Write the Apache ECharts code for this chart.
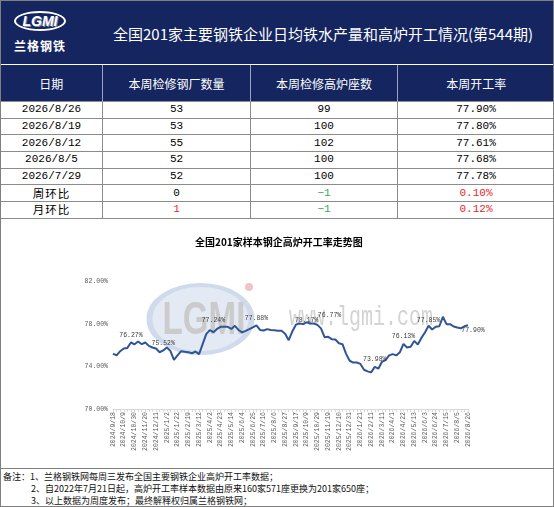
<!DOCTYPE html>
<html>
<head>
<meta charset="utf-8">
<script src="https://cdn.jsdelivr.net/npm/echarts@6/dist/echarts.min.js"></script>
<style>
  body { margin: 0; width: 554px; height: 507px; overflow: hidden; background: #fff; font-family: "Noto Sans CJK SC", sans-serif; }
  .abs { position: absolute; box-sizing: border-box; }
  #head { left: 0; top: 0; width: 554px; height: 64px; background: #14255f; }
  #logo { left: 14px; top: 11px; width: 52px; height: 20px; border: 2px solid #fff; border-radius: 50%; color: #fff;
          font: italic bold 14px "Liberation Sans", sans-serif; text-align: center; line-height: 16px; text-shadow: 1px 1px 0 #7d88a8; }
  #logo2 { left: 12px; top: 37px; width: 56px; color: #fff; font: bold 12px "Noto Sans CJK SC"; letter-spacing: 1px; text-align: center; }
  #title { left: 113px; top: 23px; color: #fff; font-size: 15px; white-space: nowrap; }
  table { position: absolute; left: 0; top: 64px; width: 554px; border-collapse: collapse; table-layout: fixed; }
  th { background: #14255f; color: #fff; font-weight: normal; font-size: 12px; height: 36px; padding: 0;
       border-left: 1px solid #9aa3c0; border-top: 1px solid #fff; }
  td { height: 15.7px; padding: 0; text-align: center; font-family: "Liberation Mono", "Noto Sans CJK SC", monospace; font-size: 11px;
       border: 1px solid #8c8c8c; line-height: 13px; }
  td.cn { font-family: "Noto Sans CJK SC"; font-size: 11.5px; letter-spacing: 1px; }
  .red { color: #e8262b; }
  .green { color: #35a862; }
  #chart { left: 1px; top: 217px; width: 552px; height: 251px; }
  #note { left: 0; top: 468px; width: 554px; height: 39px; border-top: 1px solid #7f7f7f; font-size: 9px; line-height: 12px; padding: 2px 0 0 3px; color: #111; }
  #frame { left: 0; top: 0; width: 554px; height: 507px; border: 1px solid #7f7f7f; pointer-events: none; }
</style>
</head>
<body>
<div id="head" class="abs"></div>
<div id="logo" class="abs">LGMI</div>
<div id="logo2" class="abs">兰格钢铁</div>
<div id="title" class="abs">全国201家主要钢铁企业日均铁水产量和高炉开工情况(第544期)</div>
<table id="tbl">
  <colgroup><col style="width:102px"><col style="width:148px"><col style="width:147px"><col style="width:157px"></colgroup>
  <thead><tr><th style="border-left:none">日期</th><th>本周检修钢厂数量</th><th>本周检修高炉座数</th><th>本周开工率</th></tr></thead>
  <tbody id="tbody"></tbody>
</table>
<div id="chart" class="abs"></div>
<div id="note" class="abs">
  <div>备注：1、兰格钢铁网每周三发布全国主要钢铁企业高炉开工率数据；</div>
  <div style="padding-left:28px">2、自2022年7月21日起，高炉开工率样本数据由原来160家571座更换为201家650座；</div>
  <div style="padding-left:28px">3、以上数据为周度发布；最终解释权归属兰格钢铁网；</div>
</div>
<div id="frame" class="abs"></div>
<script>
// table data
var tblDates = ['2026/8/26', '2026/8/19', '2026/8/12', '2026/8/5', '2026/7/29'];
var tblMills = [53, 53, 55, 52, 52];
var tblFurnaces = [99, 100, 102, 100, 100];
var tblRates = ['77.90%', '77.80%', '77.61%', '77.68%', '77.78%'];
var wowRow = ['0', '-1', '0.10%'];
var momRow = ['1', '-1', '0.12%'];

// chart data (weekly)
var dates = [
  '2024/9/18', '2024/9/25', '2024/9/30', '2024/10/9', '2024/10/16', '2024/10/23', '2024/10/30', '2024/11/6', '2024/11/13', '2024/11/20',
  '2024/11/27', '2024/12/4', '2024/12/11', '2024/12/18', '2024/12/25', '2025/1/2', '2025/1/8', '2025/1/15', '2025/1/22', '2025/2/6',
  '2025/2/12', '2025/2/19', '2025/2/26', '2025/3/5', '2025/3/12', '2025/3/19', '2025/3/26', '2025/4/2', '2025/4/9', '2025/4/16',
  '2025/4/23', '2025/4/30', '2025/5/7', '2025/5/14', '2025/5/21', '2025/5/28', '2025/6/4', '2025/6/11', '2025/6/18', '2025/6/25',
  '2025/7/2', '2025/7/9', '2025/7/16', '2025/7/23', '2025/7/30', '2025/8/6', '2025/8/13', '2025/8/20', '2025/8/27', '2025/9/3',
  '2025/9/10', '2025/9/17', '2025/9/24', '2025/9/30', '2025/10/9', '2025/10/15', '2025/10/22', '2025/10/29', '2025/11/5', '2025/11/12',
  '2025/11/19', '2025/11/26', '2025/12/3', '2025/12/10', '2025/12/17', '2025/12/24', '2025/12/31', '2026/1/7', '2026/1/14', '2026/1/21',
  '2026/1/28', '2026/2/4', '2026/2/11', '2026/2/25', '2026/3/4', '2026/3/11', '2026/3/18', '2026/3/25', '2026/4/1', '2026/4/8',
  '2026/4/15', '2026/4/22', '2026/4/29', '2026/5/6', '2026/5/13', '2026/5/20', '2026/5/27', '2026/6/3', '2026/6/10', '2026/6/17',
  '2026/6/24', '2026/7/1', '2026/7/8', '2026/7/15', '2026/7/22', '2026/7/29', '2026/8/5', '2026/8/12', '2026/8/19', '2026/8/26'
];
var rates = [
  75.23, 75.05, 75.45, 75.70, 75.76, 76.27, 76.10, 76.36, 76.11, 76.27,
  75.95, 75.80, 75.70, 75.35, 75.52, 75.80, 75.48, 74.62, 75.05, 75.45,
  75.40, 75.36, 75.25, 75.42, 75.17, 76.11, 77.06, 77.43, 77.24, 77.55,
  77.75, 77.75, 77.75, 77.55, 77.84, 77.45, 77.22, 77.37, 77.53, 77.70,
  77.88, 77.45, 77.40, 77.53, 77.45, 77.43, 77.38, 77.37, 77.10, 76.49,
  77.30, 77.95, 78.06, 78.00, 78.17, 78.06, 78.06, 77.93, 77.60, 76.77,
  76.80, 76.58, 76.55, 76.20, 76.11, 75.20, 74.55, 74.38, 74.38, 74.25,
  73.70, 73.55, 73.45, 73.98, 73.80, 74.45, 74.60, 75.05, 75.17, 75.05,
  75.35, 76.13, 75.80, 75.86, 76.42, 76.08, 76.70, 77.21, 77.85, 77.50,
  77.75, 77.80, 78.69, 78.00, 78.00, 77.78, 77.68, 77.61, 77.80, 77.90
];
var labelIdx = [5, 14, 28, 40, 54, 59, 73, 81, 88, 99];

// fill the table
var rows = '';
for (var i = 0; i < tblDates.length; i++) {
  rows += '<tr><td>' + tblDates[i] + '</td><td>' + tblMills[i] + '</td><td>' + tblFurnaces[i] + '</td><td>' + tblRates[i] + '</td></tr>';
}
function cls(v) {
  if (v.charAt(0) === '-') return 'green';
  if (v === '0') return '';
  return 'red';
}
function diffRow(name, r) {
  var s = '<tr><td class="cn">' + name + '</td>';
  r.forEach(function (v) { s += '<td class="' + cls(v) + '">' + v.replace('-', '−') + '</td>'; });
  return s + '</tr>';
}
rows += diffRow('周环比', wowRow) + diffRow('月环比', momRow);
document.getElementById('tbody').innerHTML = rows;

// label placement tweaks for the marked points
var labelPos = {
  54: { position: 'inside', offset: [0, -2] },
  59: { position: 'top', offset: [5, -14] },
  28: { position: 'top', offset: [0, -4] },
  88: { position: 'top', offset: [0, 2] },
  99: { position: 'inside', offset: [5, 5] }
};
var seriesData = rates.map(function (v, i) {
  if (labelIdx.indexOf(i) < 0) return v;
  var lp = labelPos[i] || { position: 'top' };
  return {
    value: v,
    label: {
      show: true,
      position: lp.position,
      offset: lp.offset || [0, 0],
      distance: 4,
      formatter: function (p) { return p.value.toFixed(2) + '%'; }
    }
  };
});

var chart = echarts.init(document.getElementById('chart'));
chart.setOption({
  animation: false,
  title: {
    text: '全国201家样本钢企高炉开工率走势图',
    left: 189,
    top: 15,
    textStyle: { fontSize: 10, fontWeight: 'bold', color: '#000', fontFamily: 'Noto Sans CJK SC' }
  },
  graphic: [
    { type: 'circle', x: 199.5, y: 102, scaleX: 1.5, shape: { cx: 0, cy: 0, r: 34 }, style: { fill: '#e4eaf4', stroke: '#cfdaec', lineWidth: 4 }, z: -10 },
    { type: 'text', x: 203, y: 104, scaleX: 0.72, z: -9,
      style: { text: 'LGMI', fontSize: 46, fontWeight: 'bold', fontFamily: 'Liberation Sans', fill: '#cbcbcb', textAlign: 'center', textVerticalAlign: 'middle' } },
    { type: 'circle', x: 248, y: 70, shape: { cx: 0, cy: 0, r: 4 }, style: { fill: '#f1c4c4' }, z: -8 },
    { type: 'text', x: 288, y: 101, scaleY: 1.4, z: -9,
      style: { text: 'www.lgmi.com', fontSize: 20, fontFamily: 'Liberation Mono', fill: '#d3d3d3', textVerticalAlign: 'middle' } }
  ],
  grid: { left: 112, right: 85, top: 64.7, bottom: 59, containLabel: false },
  xAxis: {
    type: 'category',
    data: dates,
    boundaryGap: false,
    axisLine: { lineStyle: { color: '#d9d9d9' } },
    axisTick: { show: true, interval: 0, length: 3, lineStyle: { color: '#d9d9d9' } },
    axisLabel: { interval: 2, rotate: 90, fontSize: 6.5, color: '#595959', fontFamily: 'Liberation Mono', margin: 3 }
  },
  yAxis: {
    type: 'value',
    min: 70,
    max: 82,
    interval: 4,
    splitLine: { show: false },
    axisLine: { show: false },
    axisTick: { show: false },
    axisLabel: { fontSize: 6.5, color: '#595959', fontFamily: 'Liberation Mono', margin: 5,
      formatter: function (v) { return v.toFixed(2) + '%'; } }
  },
  series: [{
    type: 'line',
    data: seriesData,
    showSymbol: true,
    symbol: 'circle',
    symbolSize: 0.1,
    itemStyle: { color: '#2f5597' },
    lineStyle: { color: '#2f5597', width: 2 },
    label: { fontSize: 6.5, color: '#404040', fontFamily: 'Liberation Mono' }
  }]
});
</script>
</body>
</html>
